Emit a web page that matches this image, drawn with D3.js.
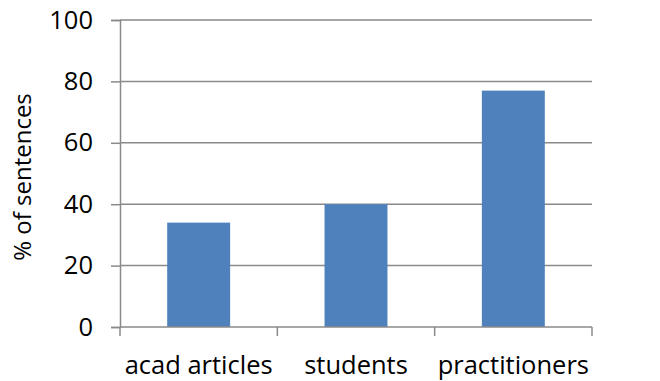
<!DOCTYPE html>
<html>
<head>
<meta charset="utf-8">
<script src="https://cdn.jsdelivr.net/npm/d3@7"></script>
<style>
  html, body { margin: 0; padding: 0; background: #fff; }
  svg { display: block; }
  text { font-family: "Open Sans", "Noto Sans", sans-serif; fill: #000; }
</style>
</head>
<body>
<svg id="chart" width="660" height="381"></svg>
<script>
const categories = ["acad articles", "students", "practitioners"];
const values = [34, 40, 77];
const yTicks = [0, 20, 40, 60, 80, 100];
const yLabel = "% of sentences";

const svg = d3.select("#chart");
const margin = { left: 120, right: 68, top: 20, bottom: 54 };
const W = 660, H = 381;

const x = d3.scaleBand()
  .domain(categories)
  .range([margin.left, W - margin.right])
  .paddingInner(0.6)
  .paddingOuter(0.3);

const y = d3.scaleLinear()
  .domain([0, 100])
  .range([H - margin.bottom, margin.top]);

const lineColor = "#8a8a8a";

// gridlines
svg.append("g")
  .selectAll("line")
  .data(yTicks.filter(d => d !== 0))
  .join("line")
  .attr("x1", margin.left)
  .attr("x2", W - margin.right)
  .attr("y1", d => y(d))
  .attr("y2", d => y(d))
  .attr("stroke", lineColor)
  .attr("stroke-width", 1.5);

// bars
svg.append("g")
  .selectAll("rect")
  .data(values)
  .join("rect")
  .attr("x", (d, i) => x(categories[i]))
  .attr("width", x.bandwidth())
  .attr("y", d => y(d))
  .attr("height", d => y(0) - y(d))
  .attr("fill", "#4F81BD");

// y axis
const yAxis = d3.axisLeft(y).tickValues(yTicks).tickSize(9).tickPadding(18);
const gy = svg.append("g")
  .attr("transform", `translate(${margin.left},0)`)
  .call(yAxis);
gy.select(".domain").attr("stroke", lineColor).attr("stroke-width", 1.5);
gy.selectAll(".tick line").attr("stroke", lineColor).attr("stroke-width", 1.5);
gy.selectAll(".tick text").style("font-size", "25.5px").attr("fill", "#000");

// x axis with boundary ticks
const boundaries = d3.range(categories.length + 1).map(i => margin.left + i * (W - margin.left - margin.right) / categories.length);
const gx = svg.append("g");
gx.append("line")
  .attr("x1", margin.left).attr("x2", W - margin.right)
  .attr("y1", y(0)).attr("y2", y(0))
  .attr("stroke", lineColor).attr("stroke-width", 1.5);
gx.selectAll("line.bt")
  .data(boundaries)
  .join("line")
  .attr("class", "bt")
  .attr("x1", d => d).attr("x2", d => d)
  .attr("y1", y(0)).attr("y2", y(0) + 9)
  .attr("stroke", lineColor).attr("stroke-width", 1.5);
gx.selectAll("text")
  .data(categories)
  .join("text")
  .attr("x", d => x(d) + x.bandwidth() / 2)
  .attr("y", 374)
  .attr("text-anchor", "middle")
  .style("font-size", "25.5px")
  .text(d => d);

// y label
svg.append("text")
  .attr("transform", `translate(31,177) rotate(-90)`)
  .attr("text-anchor", "middle")
  .style("font-size", "24px")
  .text(yLabel);
</script>
</body>
</html>
